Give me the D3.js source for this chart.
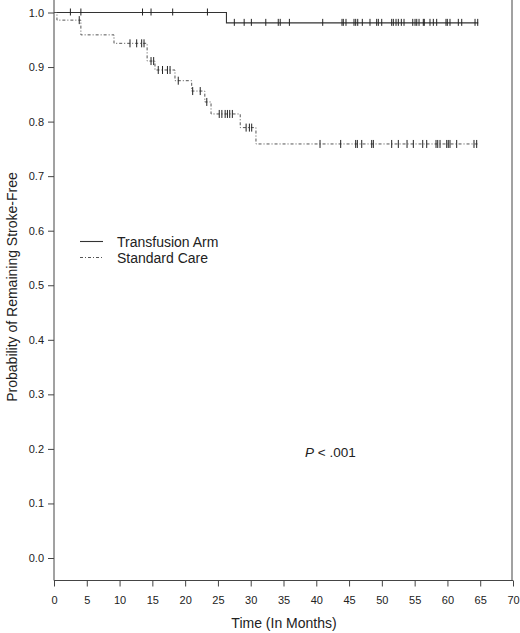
<!DOCTYPE html>
<html>
<head>
<meta charset="utf-8">
<script src="https://cdn.jsdelivr.net/npm/d3@7"></script>
<style>
  html, body { margin: 0; padding: 0; background: #fff; }
  svg { display: block; font-family: "Liberation Sans", Arial, sans-serif; }
</style>
</head>
<body>
<svg id="chart" width="520" height="633"></svg>
<script>
// ---- data ----
const xTicks = [0, 5, 10, 15, 20, 25, 30, 35, 40, 45, 50, 55, 60, 65, 70];
const yTicks = [0.0, 0.1, 0.2, 0.3, 0.4, 0.5, 0.6, 0.7, 0.8, 0.9, 1.0];

// Transfusion arm: step times (months) and survival after each step
const transTimes = [0, 26.3];
const transSurv  = [1.0, 0.981];
const transEnd   = 64.7;
const transCensor = [2.5, 4.1, 13.5, 14.8, 18.1, 23.4,
  27.5, 29.0, 30.1, 32.3, 34.2, 34.5, 35.9,
  40.98, 43.92, 44.12, 44.53, 45.75, 46.01, 46.32, 47.02, 48.19, 49.21, 49.46, 49.98,
  51.5, 51.75, 52.16, 52.51, 52.97, 53.38, 54.71, 55.06, 55.32, 55.67, 56.32, 56.47,
  57.34, 57.85, 58.36, 59.78, 59.98, 60.39, 61.66, 62.18, 64.21, 64.62];

// Standard care
const stdTimes = [0, 0.45, 4.1, 9.15, 14.2, 15.4, 18.45, 21.0, 23.0, 23.95, 28.4, 30.8];
const stdSurv  = [1.0, 0.986, 0.959, 0.9435, 0.911, 0.8946, 0.875, 0.856, 0.836, 0.814, 0.789, 0.759];
const stdEnd   = 64.7;
const stdCensor = [3.85, 11.59, 12.61, 13.37, 13.73, 14.8, 15.2,
  15.9, 16.55, 17.3, 17.7, 18.95, 21.15, 22.3, 23.3,
  25.2, 25.6, 26.1, 26.45, 26.8, 27.2, 29.3, 29.8, 30.15,
  40.57, 43.72, 46.01, 46.26, 46.93, 48.45, 48.7, 51.5, 52.51, 53.84, 54.8, 56.23, 56.84,
  58.26, 58.52, 58.87, 59.89, 60.13, 60.39, 61.41, 64.05, 64.46];

const legendLabels = ["Transfusion Arm", "Standard Care"];
const xTitle = "Time (In Months)";
const yTitle = "Probability of Remaining Stroke-Free";

// ---- drawing ----
const svg = d3.select("#chart");
const x = d3.scaleLinear().domain([0, 70]).range([54, 513]);
const y = d3.scaleLinear().domain([0, 1]).range([558, 12.5]);
const axisY0 = 580.5;
const ink = "#222";

// step path builder
function stepPoints(times, surv, end) {
  const pts = times.map((t, i) => [t, surv[i]]);
  pts.push([end, surv[surv.length - 1]]);
  return pts;
}
function survAt(times, surv, t) {
  let s = surv[0];
  for (let i = 0; i < times.length; i++) if (times[i] <= t) s = surv[i];
  return s;
}
const line = d3.line().x(d => x(d[0])).y(d => y(d[1])).curve(d3.curveStepAfter);

// curves
svg.append("path")
  .datum(stepPoints(transTimes, transSurv, transEnd))
  .attr("d", line).attr("fill", "none").attr("stroke", "#333").attr("stroke-width", 1.1);
svg.append("path")
  .datum(stepPoints(stdTimes, stdSurv, stdEnd))
  .attr("d", line).attr("fill", "none").attr("stroke", "#555").attr("stroke-width", 1)
  .attr("stroke-dasharray", "3,2,1,2");

// censor ticks
svg.append("g").selectAll("line").data(transCensor).join("line")
  .attr("x1", d => x(d)).attr("x2", d => x(d))
  .attr("y1", d => y(survAt(transTimes, transSurv, d)) - 4)
  .attr("y2", d => y(survAt(transTimes, transSurv, d)) + 3)
  .attr("stroke", "#222").attr("stroke-width", 1);
svg.append("g").selectAll("line").data(stdCensor).join("line")
  .attr("x1", d => x(d)).attr("x2", d => x(d))
  .attr("y1", d => y(survAt(stdTimes, stdSurv, d)) - 4)
  .attr("y2", d => y(survAt(stdTimes, stdSurv, d)) + 4)
  .attr("stroke", "#222").attr("stroke-width", 1);

// y axis
const yAxis = d3.axisLeft(y).tickValues(yTicks).tickFormat(d3.format(".1f")).tickSize(6).tickPadding(4);
const gy = svg.append("g").attr("transform", `translate(${x(0)},0)`).call(yAxis);
gy.select(".domain").remove();
gy.append("line").attr("x1", 0).attr("x2", 0).attr("y1", 0).attr("y2", axisY0).attr("stroke", "#444");
gy.selectAll(".tick line").attr("stroke", "#444");
gy.selectAll(".tick text").attr("font-size", 11).attr("fill", ink)
  .attr("font-family", '"Liberation Sans", Arial, sans-serif');

// x axis
const xAxis = d3.axisBottom(x).tickValues(xTicks).tickFormat(d3.format("d")).tickSize(6).tickPadding(10);
const gx = svg.append("g").attr("transform", `translate(0,${axisY0})`).call(xAxis);
gx.select(".domain").remove();
gx.append("line").attr("x1", x(0)).attr("x2", x(70)).attr("y1", 0).attr("y2", 0).attr("stroke", "#444");
gx.selectAll(".tick line").attr("stroke", "#444");
gx.selectAll(".tick text").attr("font-size", 11).attr("fill", ink)
  .attr("font-family", '"Liberation Sans", Arial, sans-serif');

// right frame line
svg.append("line").attr("x1", x(70) - 1).attr("x2", x(70) - 1).attr("y1", 0).attr("y2", axisY0)
  .attr("stroke", "#444");

// titles
svg.append("text").attr("x", 284).attr("y", 628).attr("text-anchor", "middle")
  .attr("font-size", 14).attr("fill", ink).text(xTitle);
svg.append("text").attr("transform", "translate(17,287) rotate(-90)").attr("text-anchor", "middle")
  .attr("font-size", 14).attr("fill", ink).text(yTitle);

// legend
const lg = svg.append("g");
const legendY = [241.5, 257.5];
lg.append("line").attr("x1", 80).attr("x2", 103).attr("y1", legendY[0]).attr("y2", legendY[0])
  .attr("stroke", "#333").attr("stroke-width", 1.1);
lg.append("line").attr("x1", 80).attr("x2", 103).attr("y1", legendY[1]).attr("y2", legendY[1])
  .attr("stroke", "#555").attr("stroke-dasharray", "3,2,1,2");
legendLabels.forEach((t, i) => {
  lg.append("text").attr("x", 117).attr("y", legendY[i] + 5.5).attr("font-size", 14)
    .attr("fill", ink).text(t);
});

// p-value
const pt = svg.append("text").attr("x", 305).attr("y", 457).attr("font-size", 13.5).attr("fill", ink);
pt.append("tspan").attr("font-style", "italic").text("P");
pt.append("tspan").text(" < .001");
</script>
</body>
</html>
